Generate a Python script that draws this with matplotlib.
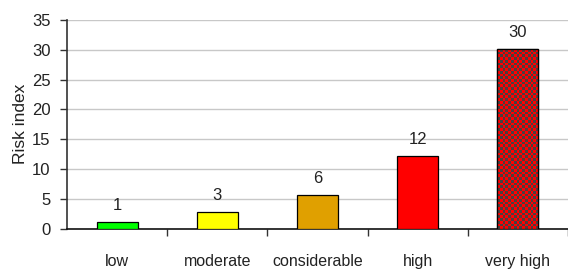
import numpy as np
import matplotlib
matplotlib.use("Agg")
import matplotlib.pyplot as plt

categories = ["low", "moderate", "considerable", "high", "very high"]
bar_heights = [1.1, 2.8, 5.7, 12.2, 30.1]
value_labels = ["1", "3", "6", "12", "30"]
bar_colors = ["#00FF00", "#FFFF00", "#E0A000", "#FF0000", None]
yticks = [0, 5, 10, 15, 20, 25, 30, 35]

plt.rcParams["font.family"] = ["Liberation Sans", "DejaVu Sans"]

fig = plt.figure(figsize=(5.68, 2.70), dpi=100)
ax = fig.add_axes([0.118, 0.1537, 0.882, 0.7725])

x = np.arange(len(categories))
width = 0.41
bars = ax.bar(x, bar_heights, width=width,
              color=[c if c else "#FF0000" for c in bar_colors],
              edgecolor="black", linewidth=0.9, zorder=3)

# checkerboard fill for the last bar
for b, c in zip(bars, bar_colors):
    if c is None:
        ncol, nrow = 15, 66
        ii, jj = np.indices((nrow, ncol))
        chk = ((ii + jj) % 2)
        rgb = np.zeros((nrow, ncol, 3))
        rgb[chk == 0] = [1.0, 0.0, 0.0]
        rgb[chk == 1] = [0.29, 0.25, 0.25]
        x0 = b.get_x(); w = b.get_width(); h = b.get_height()
        im = ax.imshow(rgb, extent=(x0, x0 + w, 0, h), aspect="auto",
                       interpolation="nearest", zorder=3.5)
        im.set_clip_path(b)
        ax.add_patch(plt.Rectangle((x0, 0), w, h, fill=False, edgecolor="black",
                                   linewidth=0.9, zorder=4))

for xi, h, lab in zip(x, bar_heights, value_labels):
    ax.annotate(lab, (xi, h), xytext=(0, 6.5), textcoords="offset points",
                ha="center", va="bottom", fontsize=12, color="#222222")

ax.set_xlim(-0.5, len(categories) - 0.5)
ax.set_ylim(0, 35)
ax.set_yticks(yticks)
ax.set_yticklabels([str(t) for t in yticks], fontsize=12, color="#222222")
ax.yaxis.grid(True, color="#C8C8C8", linewidth=1.0, zorder=0)
ax.set_axisbelow(True)
ax.tick_params(axis="y", length=5, width=1, color="#333333", pad=7)

ax.set_xticks(x)
ax.set_xticklabels(categories, fontsize=11.5, color="#222222")
ax.tick_params(axis="x", length=0, pad=18)
ax.set_xticks(np.arange(0.5, len(categories)), minor=True)
ax.tick_params(axis="x", which="minor", length=5, width=1, color="#333333")

ax.set_ylabel("Risk index", fontsize=12.5, color="#222222", labelpad=3)

for s in ["top", "right"]:
    ax.spines[s].set_visible(False)
ax.spines["left"].set_color("#333333")
ax.spines["bottom"].set_color("#111111")
ax.spines["left"].set_linewidth(1.2)
ax.spines["bottom"].set_linewidth(1.2)

fig.savefig("out.png", dpi=100, facecolor="white")
